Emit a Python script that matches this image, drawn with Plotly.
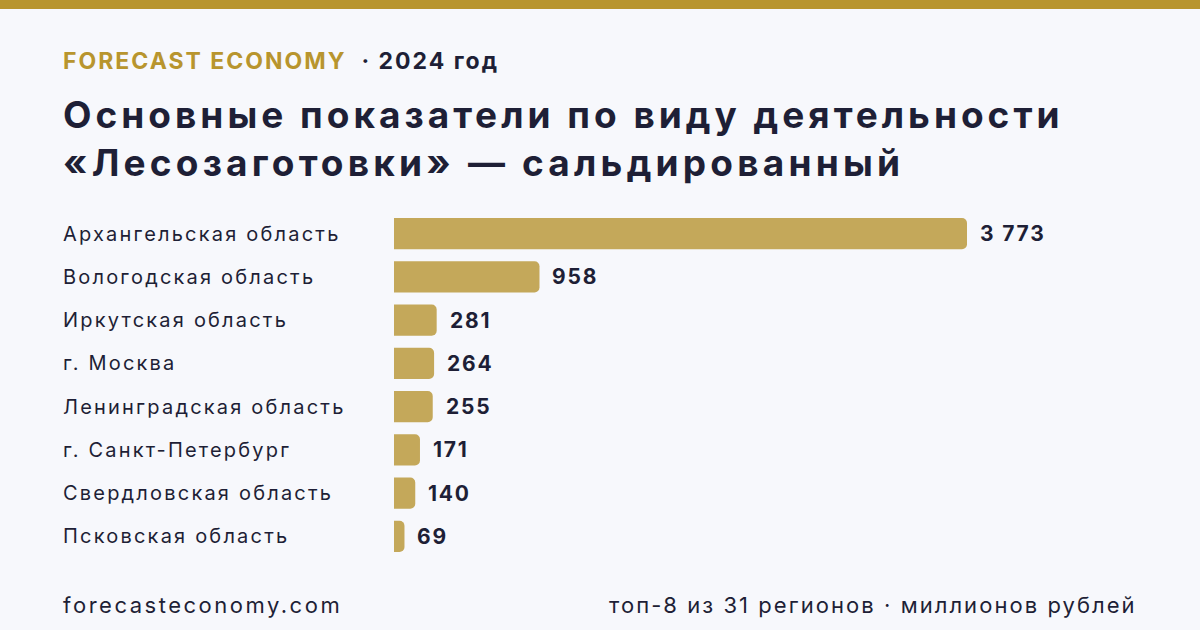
import plotly.graph_objects as go

regions = ["Архангельская область", "Вологодская область", "Иркутская область", "г. Москва",
           "Ленинградская область", "г. Санкт-Петербург", "Свердловская область", "Псковская область"]
values = [3773, 958, 281, 264, 255, 171, 140, 69]
value_labels = ["3 773", "958", "281", "264", "255", "171", "140", "69"]

W, H = 1200, 630
ML, MR, MT, MB = 394, 100, 212, 72
PW = W - ML - MR
PH = H - MT - MB
xmax = 3773 * PW / 573.0

def px_x(p):
    return (p - ML) / PW

def px_y(p):
    return (H - MB - p) / PH

def ls(text, sp):
    return f"<span style='letter-spacing:{sp}px'>{text}</span>"

DARK = "#1e1f36"
GOLD = "#b8952e"
BAR = "#c4a85a"
FONT = "Inter, Roboto, sans-serif"
LX = px_x(61)

fig = go.Figure()
fig.add_trace(go.Bar(
    x=values, y=regions, orientation="h",
    marker=dict(color=BAR, cornerradius=5, line=dict(width=0)),
    width=0.72, hoverinfo="skip",
))

ann = []
for r, v, t in zip(regions, values, value_labels):
    ann.append(dict(x=v, y=r, xref="x", yref="y", text="<b>" + ls(t, 1.8) + "</b>", showarrow=False,
                    xanchor="left", xshift=11, font=dict(family=FONT, size=21, color=DARK)))
    ann.append(dict(x=LX, y=r, xref="paper", yref="y", text=ls(r, 2.2), showarrow=False,
                    xanchor="left", font=dict(family=FONT, size=20, color=DARK)))

ann.append(dict(x=LX, y=px_y(61), xref="paper", yref="paper", showarrow=False,
                xanchor="left", yanchor="middle",
                text="<b>" + ls(f"<span style='color:{GOLD}'>FORECAST ECONOMY</span>  · 2024 год", 2) + "</b>",
                font=dict(family=FONT, size=23, color=DARK)))
ann.append(dict(x=LX, y=px_y(114), xref="paper", yref="paper", showarrow=False,
                xanchor="left", yanchor="middle",
                text="<b>" + ls("Основные показатели по виду деятельности", 4) + "</b>",
                font=dict(family=FONT, size=37, color=DARK)))
ann.append(dict(x=LX, y=px_y(162), xref="paper", yref="paper", showarrow=False,
                xanchor="left", yanchor="middle",
                text="<b>" + ls("«Лесозаготовки» — сальдированный", 4.2) + "</b>",
                font=dict(family=FONT, size=37, color=DARK)))
ann.append(dict(x=LX, y=px_y(605), xref="paper", yref="paper", showarrow=False,
                xanchor="left", yanchor="middle", text=ls("forecasteconomy.com", 2.5),
                font=dict(family=FONT, size=22, color=DARK)))
ann.append(dict(x=px_x(1139), y=px_y(605), xref="paper", yref="paper", showarrow=False,
                xanchor="right", yanchor="middle", text=ls("топ-8 из 31 регионов · миллионов рублей", 2.05),
                font=dict(family=FONT, size=22, color=DARK)))

fig.update_layout(
    width=W, height=H,
    margin=dict(l=ML, r=MR, t=MT, b=MB),
    paper_bgcolor="#f7f8fc", plot_bgcolor="#f7f8fc",
    showlegend=False,
    xaxis=dict(range=[0, xmax], visible=False, fixedrange=True),
    yaxis=dict(autorange="reversed", visible=False, fixedrange=True),
    annotations=ann,
    shapes=[dict(type="rect", xref="paper", yref="paper", x0=px_x(0), x1=px_x(W),
                 y0=px_y(9), y1=px_y(0), fillcolor=GOLD, line=dict(width=0), layer="below")],
)

fig.write_html("out.html", config={"displayModeBar": False})
